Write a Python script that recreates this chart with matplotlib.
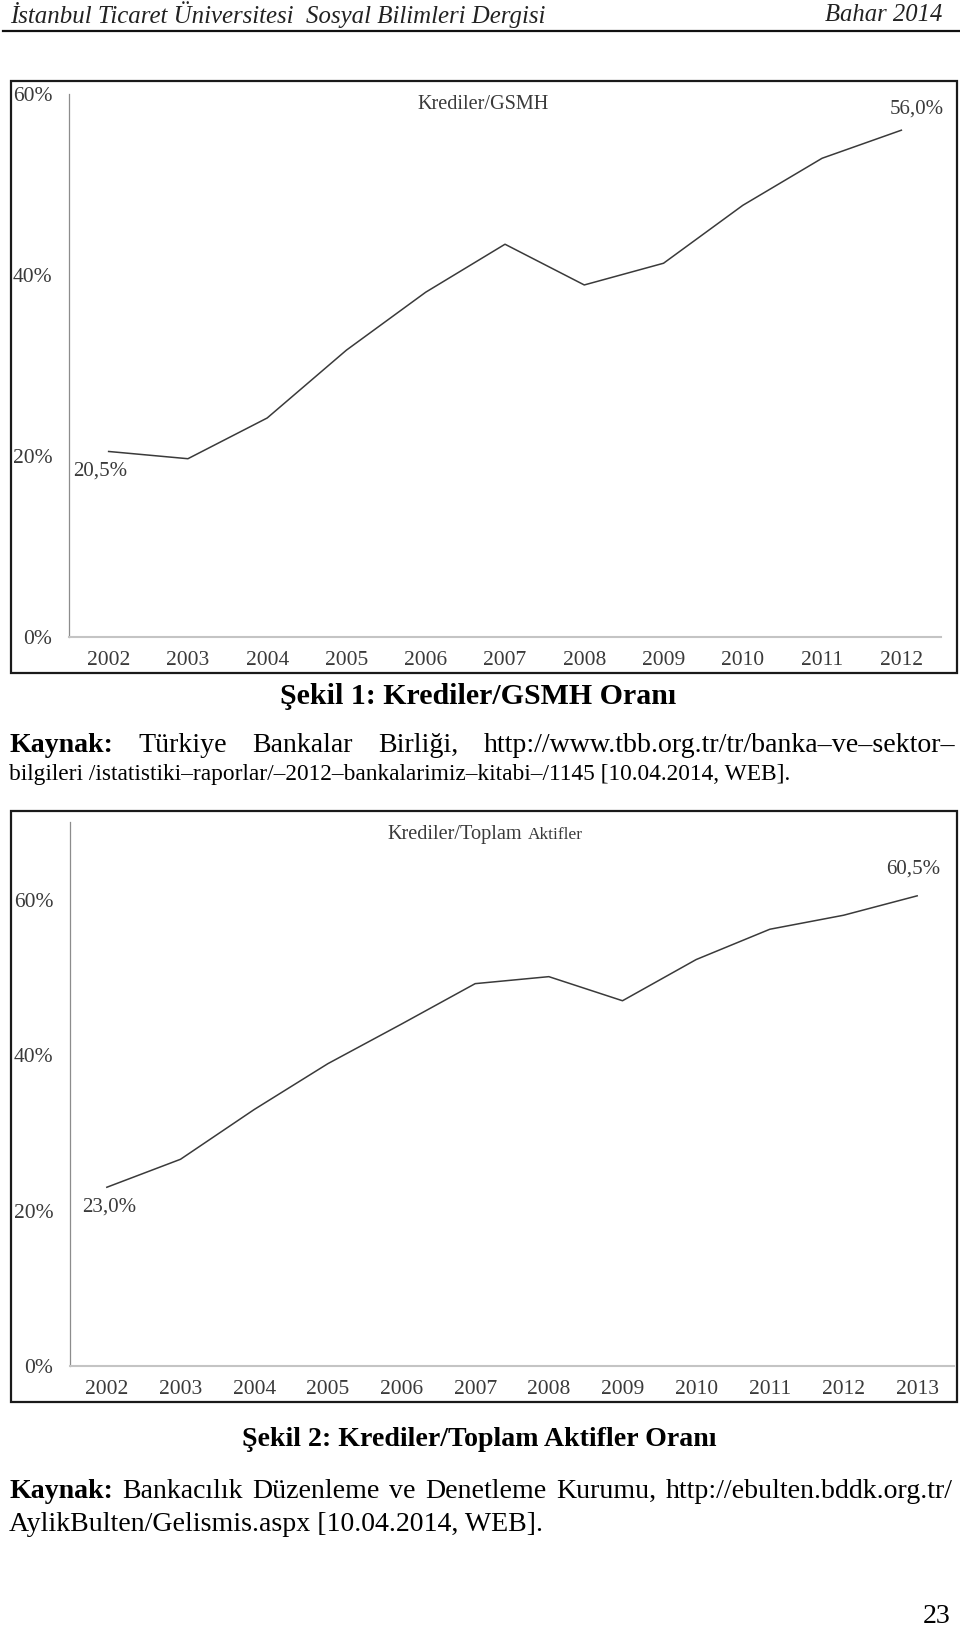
import matplotlib
matplotlib.use("Agg")
import matplotlib.pyplot as plt
from matplotlib.patches import Rectangle

# chart data
years1 = ["2002", "2003", "2004", "2005", "2006", "2007", "2008", "2009", "2010", "2011", "2012"]
ratio1 = [20.5, 19.7, 24.2, 31.7, 38.1, 43.4, 38.9, 41.3, 47.7, 52.9, 56.0]

years2 = ["2002", "2003", "2004", "2005", "2006", "2007", "2008", "2009", "2010", "2011", "2012", "2013"]
ratio2 = [23.0, 26.6, 33.0, 38.9, 44.0, 49.2, 50.1, 47.0, 52.3, 56.2, 58.0, 60.5]

yticks = [0, 20, 40, 60]
ytick_labels = ["0%", "20%", "40%", "60%"]

SERIF = "Liberation Serif"
W, H = 960, 1627
GRAY = "#3a3a3a"

fig = plt.figure(figsize=(W / 100, H / 100), dpi=100)
rend = fig.canvas.get_renderer()

# page layer in pixel coordinates
page = fig.add_axes([0, 0, 1, 1])
page.set_xlim(0, W)
page.set_ylim(H, 0)
page.axis("off")


def width_of(t):
    return t.get_window_extent(renderer=rend).width


def base(yc, size):
    # baseline position for a text line whose middle sits at yc
    return yc + 0.33 * size / 0.72


def fit(x, y, s, width, **kw):
    # draw text and scale it so that it spans the given pixel width
    t = page.text(x, y, s, fontsize=10, **kw)
    t.set_fontsize(10 * width / width_of(t))
    return t


def justify(words, x0, x1, yc, size, bold_first=True):
    texts = []
    for i, w in enumerate(words):
        wt = "bold" if (bold_first and i == 0) else "normal"
        texts.append(page.text(0, base(yc, size), w, fontsize=size, family=SERIF,
                               fontweight=wt, va="baseline", ha="left"))
    widths = [width_of(t) for t in texts]
    gap = (x1 - x0 - sum(widths)) / (len(texts) - 1)
    x = x0
    for t, w in zip(texts, widths):
        t.set_x(x)
        x += w + gap


# header
fit(10, 15, "İstanbul Ticaret Üniversitesi  Sosyal Bilimleri Dergisi", 538,
    family=SERIF, style="italic", va="center", ha="left", color="#222222")
fit(825, 15, "Bahar 2014", 118, family=SERIF, style="italic",
    va="center", ha="left", color="#222222")
page.plot([3, 960], [31, 31], color="#111111", lw=1.6)

# chart frames
page.add_patch(Rectangle((11, 81), 946, 592, fill=False, ec="#1a1a1a", lw=1.6))
page.add_patch(Rectangle((11, 811), 946, 591, fill=False, ec="#1a1a1a", lw=1.6))

# body text size taken from the last source line
last = fit(9, 0, "AylikBulten/Gelismis.aspx [10.04.2014, WEB].", 533,
           family=SERIF, va="baseline", ha="left")
body = last.get_fontsize()
last.set_y(base(1522, body))

fit(280, 696, "Şekil 1: Krediler/GSMH Oranı", 396,
    family=SERIF, fontweight="bold", ha="left", va="center")
justify(["Kaynak:", "Türkiye", "Bankalar", "Birliği,", "http://www.tbb.org.tr/tr/banka–ve–sektor–"],
        9, 955, 743, body)
l2 = fit(9, 0, "bilgileri /istatistiki–raporlar/–2012–bankalarimiz–kitabi–/1145 [10.04.2014, WEB].",
         783, family=SERIF, va="baseline", ha="left")
l2.set_y(base(771, body))

fit(242, 1440, "Şekil 2: Krediler/Toplam Aktifler Oranı", 476,
    family=SERIF, fontweight="bold", ha="left", va="center")
justify(["Kaynak:", "Bankacılık", "Düzenleme", "ve", "Denetleme", "Kurumu,",
         "http://ebulten.bddk.org.tr/"], 9, 953, 1489, body)

page.text(950, base(1614, body), "23", fontsize=body, family=SERIF, va="baseline", ha="right")


def line_chart(left, right, top, bottom, years, vals, ytop):
    ax = fig.add_axes([left / W, 1 - bottom / H, (right - left) / W, (bottom - top) / H])
    xs = range(len(years))
    ax.plot(xs, vals, color=GRAY, lw=1.1)
    ax.set_xlim(-0.5, len(years) - 0.5)
    ax.set_ylim(0, ytop)
    ax.set_xticks(list(xs))
    ax.set_xticklabels(years)
    ax.set_yticks(yticks)
    ax.set_yticklabels(ytick_labels)
    ax.tick_params(length=0, labelsize=15.5, labelcolor=GRAY)
    ax.tick_params(axis="y", pad=12)
    ax.tick_params(axis="x", pad=10)
    for lab in ax.get_xticklabels() + ax.get_yticklabels():
        lab.set_family(SERIF)
    ax.spines["top"].set_visible(False)
    ax.spines["right"].set_visible(False)
    ax.spines["left"].set_color("#8c8c8c")
    ax.spines["left"].set_linewidth(0.9)
    ax.spines["bottom"].set_color("#c4c4c4")
    ax.spines["bottom"].set_linewidth(1.5)
    ax.patch.set_alpha(0)
    return ax


ax1 = line_chart(69, 941, 94, 637, years1, ratio1, 60)
ax1.annotate("20,5%", (0, ratio1[0]), xytext=(-6, -14), textcoords="offset points",
             ha="center", va="center", fontsize=15, family=SERIF, color=GRAY)
ax1.annotate("56,0%", (len(years1) - 1, ratio1[-1]), xytext=(11, 15), textcoords="offset points",
             ha="center", va="center", fontsize=15, family=SERIF, color=GRAY)
page.text(483, 104, "Krediler/GSMH", fontsize=14.6, family=SERIF, color=GRAY,
          ha="center", va="center")

ax2 = line_chart(70, 954, 822, 1366, years2, ratio2, 70)
ax2.annotate("23,0%", (0, ratio2[0]), xytext=(2, -14), textcoords="offset points",
             ha="center", va="center", fontsize=15, family=SERIF, color=GRAY)
ax2.annotate("60,5%", (len(years2) - 1, ratio2[-1]), xytext=(-3, 19), textcoords="offset points",
             ha="center", va="center", fontsize=15, family=SERIF, color=GRAY)
page.text(387, 834, "Krediler/Toplam", fontsize=14.6, family=SERIF, color=GRAY,
          ha="left", va="center")
page.text(528, 835, "Aktifler", fontsize=12.5, family=SERIF, color=GRAY,
          ha="left", va="center")

fig.savefig("out.png", dpi=100)
